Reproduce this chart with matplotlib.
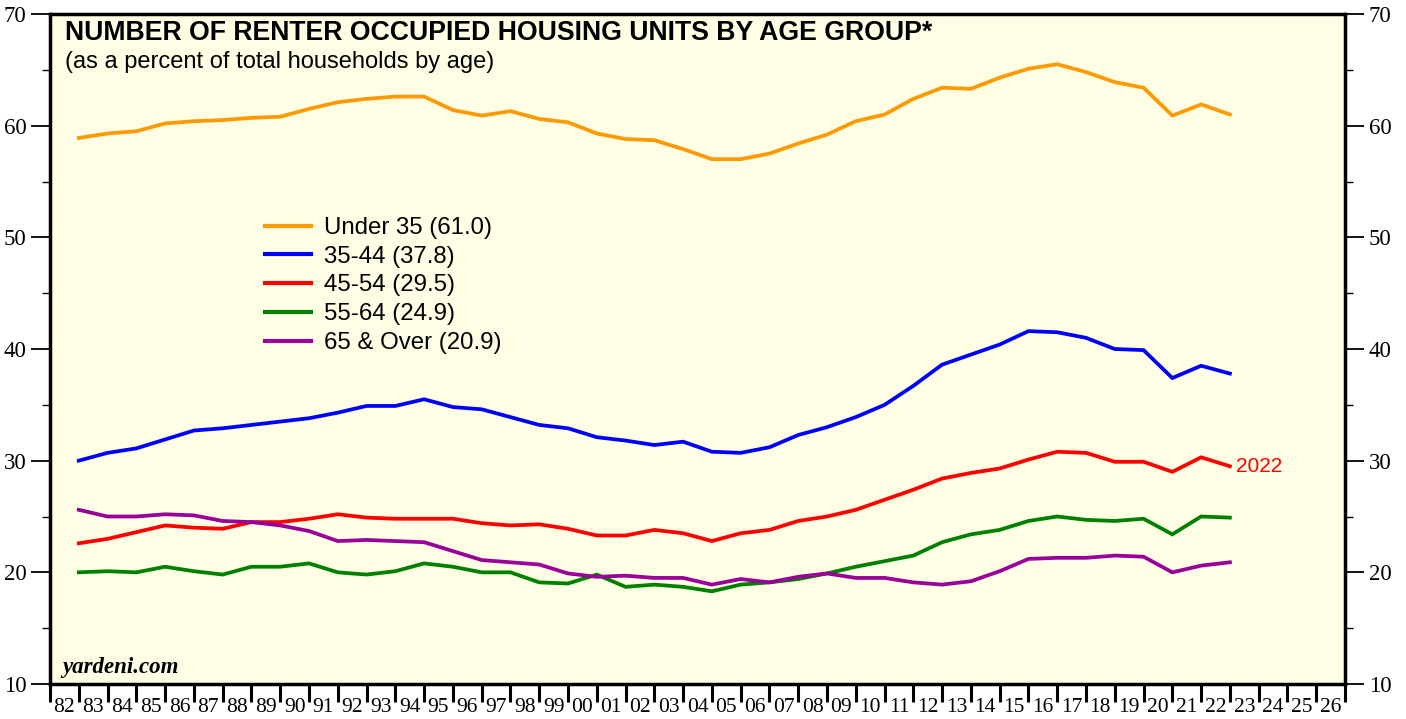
import matplotlib
matplotlib.use("Agg")
import matplotlib.pyplot as plt
from matplotlib.ticker import FixedLocator, MultipleLocator, NullFormatter

years = list(range(1982, 2023))
under35 = [58.9, 59.3, 59.5, 60.2, 60.4, 60.5, 60.7, 60.8, 61.5, 62.1, 62.4, 62.6, 62.6, 61.4, 60.9,
           61.3, 60.6, 60.3, 59.3, 58.8, 58.7, 57.9, 57.0, 57.0, 57.5, 58.4, 59.2, 60.4, 61.0, 62.4,
           63.4, 63.3, 64.3, 65.1, 65.5, 64.8, 63.9, 63.4, 60.9, 61.9, 61.0]
age35_44 = [30.0, 30.7, 31.1, 31.9, 32.7, 32.9, 33.2, 33.5, 33.8, 34.3, 34.9, 34.9, 35.5, 34.8, 34.6,
            33.9, 33.2, 32.9, 32.1, 31.8, 31.4, 31.7, 30.8, 30.7, 31.2, 32.3, 33.0, 33.9, 35.0, 36.7,
            38.6, 39.5, 40.4, 41.6, 41.5, 41.0, 40.0, 39.9, 37.4, 38.5, 37.8]
age45_54 = [22.6, 23.0, 23.6, 24.2, 24.0, 23.9, 24.5, 24.5, 24.8, 25.2, 24.9, 24.8, 24.8, 24.8, 24.4,
            24.2, 24.3, 23.9, 23.3, 23.3, 23.8, 23.5, 22.8, 23.5, 23.8, 24.6, 25.0, 25.6, 26.5, 27.4,
            28.4, 28.9, 29.3, 30.1, 30.8, 30.7, 29.9, 29.9, 29.0, 30.3, 29.5]
age55_64 = [20.0, 20.1, 20.0, 20.5, 20.1, 19.8, 20.5, 20.5, 20.8, 20.0, 19.8, 20.1, 20.8, 20.5, 20.0,
            20.0, 19.1, 19.0, 19.8, 18.7, 18.9, 18.7, 18.3, 18.9, 19.1, 19.4, 19.9, 20.5, 21.0, 21.5,
            22.7, 23.4, 23.8, 24.6, 25.0, 24.7, 24.6, 24.8, 23.4, 25.0, 24.9]
age65_over = [25.6, 25.0, 25.0, 25.2, 25.1, 24.6, 24.5, 24.2, 23.7, 22.8, 22.9, 22.8, 22.7, 21.9, 21.1,
              20.9, 20.7, 19.9, 19.6, 19.7, 19.5, 19.5, 18.9, 19.4, 19.1, 19.6, 19.9, 19.5, 19.5, 19.1,
              18.9, 19.2, 20.1, 21.2, 21.3, 21.3, 21.5, 21.4, 20.0, 20.6, 20.9]

labels = ["Under 35 (61.0)", "35-44 (37.8)", "45-54 (29.5)", "55-64 (24.9)", "65 & Over (20.9)"]
colors = ["#FF9900", "#0000FF", "#FF0000", "#008000", "#990099"]
series = [under35, age35_44, age45_54, age55_64, age65_over]

tick_years = list(range(1982, 2028))
tick_labels = [f"{y % 100:02d}" for y in range(1982, 2027)]

fig = plt.figure(figsize=(14.06, 7.19), dpi=100)
ax = fig.add_axes([50 / 1406, 35 / 719, 1295 / 1406, 670 / 719])
ax.set_facecolor("#FEFEE5")

# data plotted at the end of each year
xs = [y + 1 for y in years]
for vals, lab, col in zip(series, labels, colors):
    ax.plot(xs, vals, color=col, lw=2.7, label=lab, solid_joinstyle="miter")

ax.set_xlim(1982, 2027)
ax.set_ylim(10, 70)

ax.xaxis.set_major_locator(FixedLocator(tick_years))
ax.xaxis.set_major_formatter(NullFormatter())
ax.xaxis.set_minor_locator(FixedLocator([y + 0.5 for y in range(1982, 2027)]))
ax.set_xticklabels(tick_labels, minor=True)
ax.tick_params(axis="x", which="major", direction="out", length=13, width=2.2, color="black")
ax.tick_params(axis="x", which="minor", length=0, pad=10, labelsize=15.5)
for t in ax.xaxis.get_minorticklabels():
    t.set_family("Liberation Serif")

ax.yaxis.set_major_locator(MultipleLocator(10))
ax.yaxis.set_minor_locator(MultipleLocator(5))
ax.tick_params(axis="y", which="major", direction="out", length=14, width=1.3,
               left=True, right=True, labelleft=True, labelright=True, labelsize=16.5, pad=3)
ax.tick_params(axis="y", which="minor", direction="out", length=6, width=1.0, left=True, right=True)
for lab in ax.yaxis.get_majorticklabels():
    lab.set_family("Liberation Serif")

for s in ax.spines.values():
    s.set_linewidth(2.5)
    s.set_color("black")

ax.text(15 / 1295, 1 - 19 / 670, "NUMBER OF RENTER OCCUPIED HOUSING UNITS BY AGE GROUP*",
        transform=ax.transAxes, fontsize=19.2, fontweight="bold", family="Liberation Sans",
        va="center", ha="left")
ax.text(15 / 1295, 1 - 48 / 670, "(as a percent of total households by age)",
        transform=ax.transAxes, fontsize=17, family="Liberation Sans", va="center", ha="left")
ax.text(12 / 1295, 16 / 670, "yardeni.com", transform=ax.transAxes, fontsize=16.5,
        fontweight="bold", style="italic", family="Liberation Serif", va="center", ha="left")
ax.text(xs[-1] + 0.2, age45_54[-1], "2022", color="#FF0000", fontsize=15,
        family="Liberation Sans", va="center", ha="left")

leg = ax.legend(loc="upper left", bbox_to_anchor=(215 / 1295, 1 - 203 / 670), frameon=False,
                prop={"family": "Liberation Sans", "size": 17.3}, handlelength=1.9,
                handletextpad=0.55, labelspacing=0.28, borderaxespad=0, borderpad=0)
for h in leg.get_lines():
    h.set_linewidth(3)

fig.savefig("out.png", dpi=100, facecolor="white")
